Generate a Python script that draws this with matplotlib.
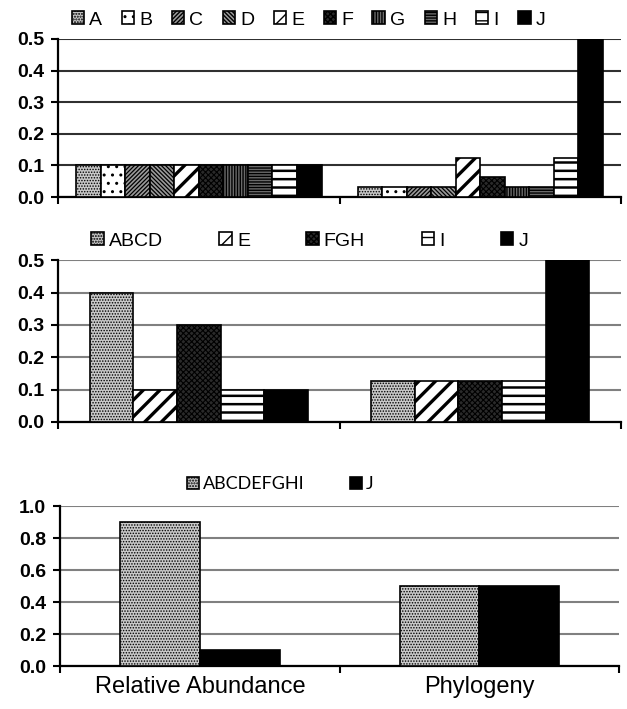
import matplotlib
matplotlib.use("Agg")
from matplotlib import pyplot as plt
import numpy as np

plt.rcParams['font.family'] = ['Liberation Sans', 'DejaVu Sans']
plt.rcParams['hatch.linewidth'] = 1.0

groups = ['Relative Abundance', 'Phylogeny']

# panel 1: every leaf
names1 = ['A', 'B', 'C', 'D', 'E', 'F', 'G', 'H', 'I', 'J']
abund1 = [0.1, 0.1, 0.1, 0.1, 0.1, 0.1, 0.1, 0.1, 0.1, 0.1]
phylo1 = [0.03125, 0.03125, 0.03125, 0.03125, 0.125, 0.0625, 0.03125, 0.03125, 0.125, 0.5]

# panel 2: collapsed clades
names2 = ['ABCD', 'E', 'FGH', 'I', 'J']
abund2 = [0.4, 0.1, 0.3, 0.1, 0.1]
phylo2 = [0.125, 0.125, 0.125, 0.125, 0.5]

# panel 3: two groups
names3 = ['ABCDEFGHI', 'J']
abund3 = [0.9, 0.1]
phylo3 = [0.5, 0.5]

# (facecolor, hatch, hatch lw)
DOTS = ('#c8c8c8', '......', 0.7)
styles = {
    'A': DOTS,
    'B': ('white', '..', 1.0),
    'C': ('#9a9a9a', '////////', 0.9),
    'D': ('#9a9a9a', '\\\\\\\\\\\\\\\\', 0.9),
    'E': ('white', '//', 2.4),
    'F': ('#2a2a2a', 'xxxxxx', 0.8),
    'G': ('#6a6a6a', '||||||', 1.0),
    'H': ('#6a6a6a', '------', 1.0),
    'I': ('white', '--', 1.8),
    'J': ('black', None, 1.0),
    'ABCD': DOTS,
    'FGH': ('#2a2a2a', 'xxxxxx', 0.8),
    'ABCDEFGHI': DOTS,
}


def panel(fig, rect, names, abund, phylo, group_frac, ymax, ystep,
          grid_color, legend_xy, col_space, legend_font, legend_size,
          xlabels=False):
    ax = fig.add_axes(rect)
    n = len(names)
    w = group_frac / n
    x = np.arange(len(groups))
    for i, nm in enumerate(names):
        fc, hatch, hlw = styles[nm]
        with plt.rc_context({'hatch.linewidth': hlw}):
            ax.bar(x - group_frac / 2 + w * (i + 0.5), [abund[i], phylo[i]], w,
                   facecolor=fc, edgecolor='black', linewidth=1.2,
                   hatch=hatch, label=nm, zorder=3)
    ax.set_xlim(-0.5, 1.5)
    ax.set_ylim(0, ymax)
    ticks = np.arange(0, ymax + ystep / 2, ystep)
    ax.set_yticks(ticks)
    ax.set_yticklabels(['%.1f' % t for t in ticks], fontsize=14, fontweight='bold')
    ax.yaxis.grid(True, color=grid_color, linewidth=1.5)
    ax.set_axisbelow(True)
    for s in ['top', 'right']:
        ax.spines[s].set_visible(False)
    for s in ['left', 'bottom']:
        ax.spines[s].set_linewidth(1.6)
    ax.tick_params(axis='y', length=5, width=1.5, pad=5)
    ax.set_xticks([-0.5, 0.5, 1.5], minor=True)
    ax.tick_params(axis='x', which='minor', length=5, width=1.5)
    if xlabels:
        ax.set_xticks(x, groups)
        ax.tick_params(axis='x', which='major', length=0, pad=7,
                       labelsize=17, labelbottom=True)
    else:
        ax.set_xticks([])
    fig.legend(*ax.get_legend_handles_labels(), loc='center',
               bbox_to_anchor=legend_xy, ncol=n, frameon=False,
               handlelength=0.65, handleheight=0.65, handletextpad=0.25,
               columnspacing=col_space, borderaxespad=0,
               prop={'family': legend_font, 'size': legend_size})
    return ax


fig = plt.figure(figsize=(6.27, 7.09), dpi=100)

panel(fig, [0.0925, 0.722, 0.898, 0.223], names1, abund1, phylo1, 0.872,
      0.5, 0.1, '#303030', (0.492, 0.972), 1.0, 'Liberation Sans', 14)
panel(fig, [0.0925, 0.405, 0.898, 0.228], names2, abund2, phylo2, 0.775,
      0.5, 0.1, '#808080', (0.494, 0.660), 2.9, 'Liberation Sans', 14)
panel(fig, [0.0957, 0.0606, 0.892, 0.2257], names3, abund3, phylo3, 0.57,
      1.0, 0.2, '#808080', (0.447, 0.317), 2.5, 'Lato', 13, xlabels=True)

fig.savefig('out.png', dpi=100)
